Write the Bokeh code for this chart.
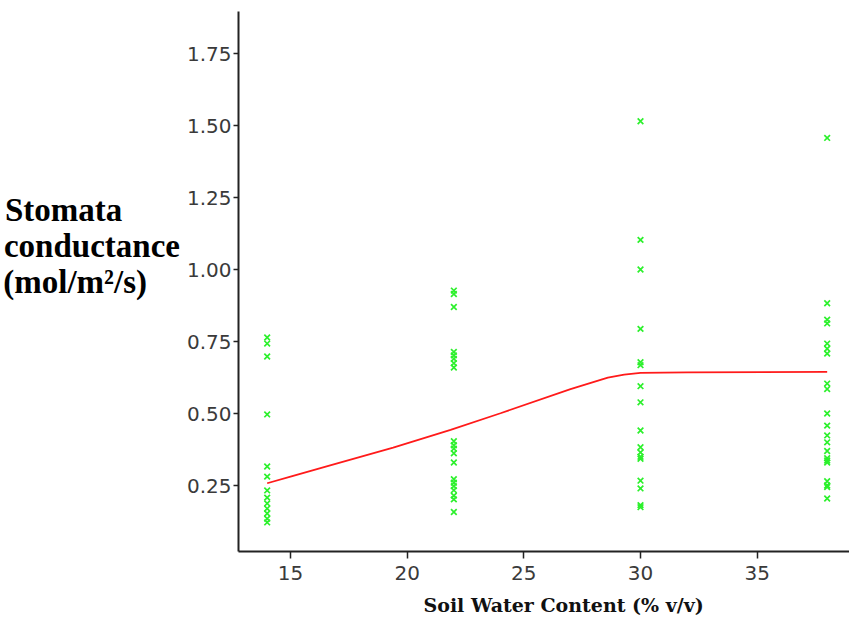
from bokeh.plotting import figure
from bokeh.models import Range1d, FixedTicker, PrintfTickFormatter, Title
from bokeh.embed import file_html
from bokeh.resources import INLINE

# ---- data ----
x14 = [14] * 13
y14 = [0.764, 0.743, 0.698, 0.497, 0.316, 0.281, 0.233, 0.208, 0.188, 0.170, 0.153, 0.135, 0.122]

x22 = [22] * 20
y22 = [0.927, 0.915, 0.870, 0.714, 0.702, 0.690, 0.675, 0.660, 0.404, 0.390, 0.378, 0.362,
       0.330, 0.272, 0.260, 0.248, 0.234, 0.215, 0.202, 0.158]

x30 = [30] * 17
y30 = [1.515, 1.103, 1.000, 0.794, 0.678, 0.668, 0.595, 0.539, 0.441, 0.383, 0.365, 0.350,
       0.343, 0.267, 0.240, 0.182, 0.175]

x38 = [38] * 21
y38 = [1.457, 0.883, 0.826, 0.813, 0.743, 0.725, 0.708, 0.604, 0.585, 0.500, 0.458, 0.424,
       0.400, 0.370, 0.345, 0.337, 0.330, 0.265, 0.250, 0.245, 0.205]

fit_x = [14, 15, 16.7, 19.4, 21.86, 24.0, 27.0, 28.6, 29.3, 30, 32, 38]
fit_y = [0.258, 0.281, 0.320, 0.382, 0.443, 0.501, 0.585, 0.625, 0.635, 0.641, 0.643, 0.645]

x_ticks = [15, 20, 25, 30, 35]
y_ticks = [0.25, 0.50, 0.75, 1.00, 1.25, 1.50, 1.75]

NB = "\u00a0"
y_title_lines = ["Stomata", "conductance", "(mol/m\u00b2/s)"]
y_title_pad = [7, 0, 4]   # non-breaking spaces so that the right-justified lines read left-aligned
x_title = "Soil Water Content (% v/v)"

# ---- figure ----
p = figure(width=849, height=626, output_backend="svg", toolbar_location=None,
           x_range=Range1d(12.771, 38.957), y_range=Range1d(0.021, 1.896),
           min_border_left=238, min_border_right=0, min_border_top=11, min_border_bottom=75)
p.outline_line_color = None
p.xgrid.visible = False
p.ygrid.visible = False
p.background_fill_color = "white"
p.border_fill_color = "white"

green = "#2cf02c"
for xs, ys in [(x14, y14), (x22, y22), (x30, y30), (x38, y38)]:
    p.scatter(xs, ys, marker="x", size=8, line_color=green, line_width=1.7)

p.line(fit_x, fit_y, line_color="#ff1a1a", line_width=1.8)

for ax in (p.xaxis[0], p.yaxis[0]):
    ax.axis_line_color = "#222222"
    ax.axis_line_width = 2
    ax.major_tick_line_color = "#222222"
    ax.major_tick_line_width = 1.5
    ax.major_tick_in = 0
    ax.minor_tick_line_color = None
    ax.major_label_text_font = "DejaVu Sans"
    ax.major_label_text_font_size = "20px"
    ax.major_label_text_color = "#3a3a3a"

p.xaxis.ticker = FixedTicker(ticks=x_ticks)
p.yaxis.ticker = FixedTicker(ticks=y_ticks)
p.yaxis.formatter = PrintfTickFormatter(format="%.2f")
p.xaxis.major_tick_out = 7
p.yaxis.major_tick_out = 5
p.xaxis.major_label_standoff = 7
p.yaxis.major_label_standoff = 2

# y title: horizontal multi-line axis label (two trailing blank lines lift it up)
p.yaxis.axis_label = "\n".join(t + NB * n for t, n in zip(y_title_lines, y_title_pad)) + "\n\n"
p.yaxis.axis_label_orientation = "horizontal"
p.yaxis.axis_label_text_font = "Liberation Serif"
p.yaxis.axis_label_text_font_style = "bold"
p.yaxis.axis_label_text_font_size = "33px"
p.yaxis.axis_label_text_line_height = 1.0
p.yaxis.axis_label_text_color = "black"
p.yaxis.axis_label_standoff = 4

# x title below the axis
p.add_layout(Title(text=x_title, align="left", offset=185,
                   text_font="DejaVu Serif", text_font_style="bold",
                   text_font_size="19px", text_color="#111111", standoff=19), "below")

open("out.html", "w").write(file_html(p, INLINE))
